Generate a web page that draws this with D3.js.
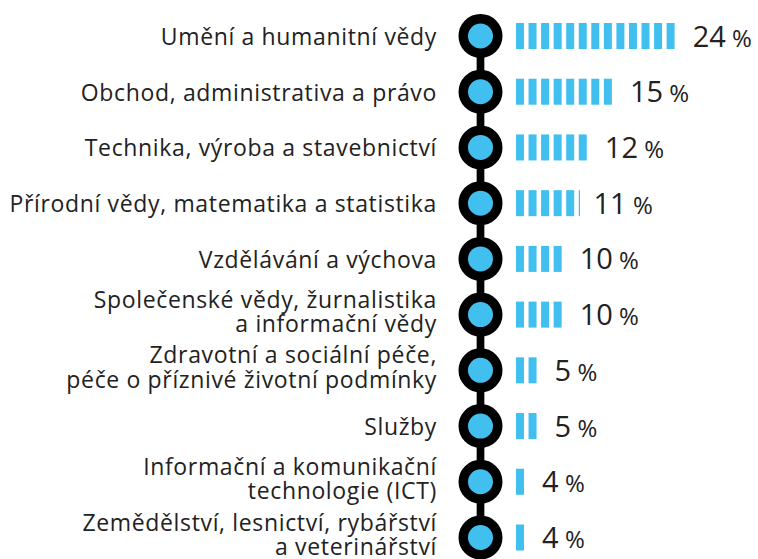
<!DOCTYPE html>
<html>
<head>
<meta charset="utf-8">
<script src="https://cdn.jsdelivr.net/npm/d3@7"></script>
<style>
  html, body { margin: 0; padding: 0; background: #fff; }
  svg { display: block; }
</style>
</head>
<body>
<div id="chart"></div>
<script>
// obory vzdelani (radky), hodnoty v % a pocet prouzku v pruhu
var categories = [
    ["Umění a humanitní vědy"],
    ["Obchod, administrativa a právo"],
    ["Technika, výroba a stavebnictví"],
    ["Přírodní vědy, matematika a statistika"],
    ["Vzdělávání a výchova"],
    ["Společenské vědy, žurnalistika", "a informační vědy"],
    ["Zdravotní a sociální péče,", "péče o příznivé životní podmínky"],
    ["Služby"],
    ["Informační a komunikační", "technologie (ICT)"],
    ["Zemědělství, lesnictví, rybářství", "a veterinářství"]
];
var values = [24, 15, 12, 11, 10, 10, 5, 5, 4, 4];
var stripes = [13, 8, 6, 5.1, 4, 4, 2, 2, 1, 1];

var width = 758,
    height = 559,
    blue = "#41bfef",
    ink = "#222";

var svg = d3.select("#chart").append("svg")
    .attr("width", width)
    .attr("height", height);

var y = d3.scalePoint()
    .domain(d3.range(categories.length))
    .range([36, 537.5]);

var x = d3.scaleLinear()
    .domain([0, 13])
    .range([516, 516 + 13 * 12.55]);

var stripeW = 8,
    stripeH = 26,
    cx = 480.5;

// svisla cara mezi kolecky
svg.append("line")
    .attr("x1", cx).attr("x2", cx)
    .attr("y1", y(0)).attr("y2", y(categories.length - 1))
    .attr("stroke", "#000")
    .attr("stroke-width", 7.7);

var rows = svg.selectAll("g.row")
    .data(categories.map(function(c, i) { return {lines: c, value: values[i], n: stripes[i], i: i}; }))
    .enter()
    .append("g")
    .attr("class", "row")
    .attr("transform", function(d) { return "translate(0," + y(d.i) + ")"; });

// kolecka
rows.append("circle")
    .attr("cx", cx)
    .attr("r", 17.25)
    .attr("fill", blue)
    .attr("stroke", "#000")
    .attr("stroke-width", 9.5);

// popisky vlevo
rows.append("text")
    .attr("x", 437)
    .attr("text-anchor", "end")
    .attr("font-family", "Open Sans")
    .attr("font-size", 23)
    .attr("letter-spacing", 0.65)
    .attr("fill", ink)
    .each(function(d) {
        var t = d3.select(this);
        var off = d.lines.length === 1 ? [9] : [-7, 17.5];
        d.lines.forEach(function(line, k) {
            t.append("tspan").attr("x", 437).attr("y", off[k]).text(line);
        });
    });

// pruhy z prouzku
rows.selectAll("rect")
    .data(function(d) {
        return d3.range(Math.ceil(d.n)).map(function(k) {
            return {k: k, w: Math.min(stripeW, x(Math.min(d.n, k + 1)) - x(k))};
        });
    })
    .enter()
    .append("rect")
    .attr("x", function(s) { return x(s.k); })
    .attr("y", -stripeH / 2)
    .attr("width", function(s) { return s.w; })
    .attr("height", stripeH)
    .attr("fill", blue);

// hodnoty
var lab = rows.append("text")
    .attr("x", function(d) { return x(d.n) + 13.5; })
    .attr("y", 10.5)
    .attr("font-family", "Open Sans")
    .attr("fill", ink);
lab.append("tspan")
    .attr("font-size", 29)
    .text(function(d) { return d.value; });
lab.append("tspan")
    .attr("font-size", 24)
    .text(" %");
</script>
</body>
</html>
